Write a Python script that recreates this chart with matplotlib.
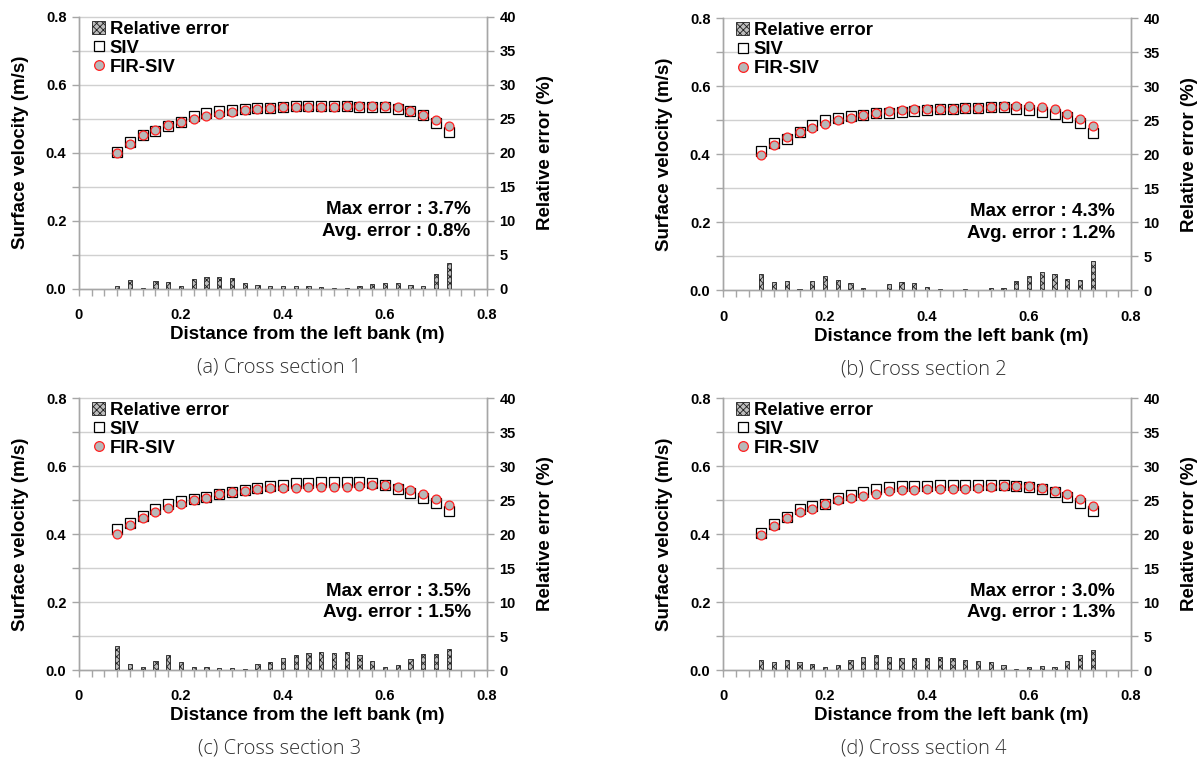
import numpy as np
import matplotlib
matplotlib.use("Agg")
import matplotlib.pyplot as plt
from matplotlib.patches import Patch
from matplotlib.lines import Line2D

plt.rcParams['font.family'] = ['Liberation Sans', 'DejaVu Sans']
plt.rcParams['font.weight'] = 'bold'
plt.rcParams['axes.labelweight'] = 'bold'
plt.rcParams['hatch.linewidth'] = 0.6

# distance from the left bank (m)
distance = [0.075 + 0.025 * i for i in range(27)]

# cross section 1
siv_1 = [0.402, 0.432, 0.452, 0.463, 0.478, 0.492, 0.509, 0.517, 0.522, 0.527, 0.530, 0.532, 0.533, 0.536,
         0.537, 0.537, 0.537, 0.537, 0.537, 0.536, 0.536, 0.534, 0.530, 0.522, 0.512, 0.487, 0.461]
fir_1 = [0.400, 0.426, 0.452, 0.468, 0.481, 0.491, 0.500, 0.509, 0.514, 0.520, 0.526, 0.530, 0.532, 0.534,
         0.535, 0.536, 0.536, 0.536, 0.537, 0.537, 0.538, 0.538, 0.534, 0.524, 0.512, 0.497, 0.480]
err_1 = [0.45, 1.3, 0.15, 1.1, 1.0, 0.45, 1.4, 1.7, 1.7, 1.6, 0.85, 0.55, 0.45, 0.45,
         0.4, 0.35, 0.25, 0.15, 0.15, 0.4, 0.75, 0.9, 0.9, 0.55, 0.45, 2.2, 3.8]

# cross section 2
siv_2 = [0.409, 0.432, 0.446, 0.465, 0.487, 0.500, 0.508, 0.513, 0.517, 0.521, 0.523, 0.525, 0.527, 0.530,
         0.533, 0.534, 0.536, 0.536, 0.538, 0.540, 0.534, 0.531, 0.525, 0.518, 0.511, 0.493, 0.464]
fir_2 = [0.398, 0.427, 0.450, 0.465, 0.478, 0.489, 0.500, 0.508, 0.516, 0.522, 0.527, 0.531, 0.533, 0.534,
         0.534, 0.534, 0.536, 0.536, 0.539, 0.541, 0.542, 0.543, 0.540, 0.533, 0.519, 0.503, 0.484]
err_2 = [2.45, 1.27, 1.37, 0.25, 1.37, 2.15, 1.47, 1.03, 0.4, 0.1, 0.9, 1.27, 1.03, 0.55,
         0.15, 0.1, 0.15, 0.1, 0.3, 0.3, 1.3, 2.15, 2.65, 2.4, 1.6, 1.47, 4.3]

# cross section 3
siv_3 = [0.414, 0.433, 0.453, 0.473, 0.489, 0.498, 0.502, 0.509, 0.518, 0.524, 0.529, 0.535, 0.541, 0.545,
         0.549, 0.551, 0.553, 0.554, 0.554, 0.554, 0.551, 0.545, 0.533, 0.521, 0.507, 0.491, 0.468]
fir_3 = [0.399, 0.426, 0.448, 0.465, 0.476, 0.489, 0.500, 0.507, 0.517, 0.524, 0.527, 0.531, 0.535, 0.535,
         0.536, 0.537, 0.538, 0.539, 0.539, 0.541, 0.545, 0.544, 0.538, 0.529, 0.519, 0.504, 0.484]
err_3 = [3.5, 0.95, 0.5, 1.35, 2.15, 1.25, 0.4, 0.4, 0.35, 0.35, 0.1, 0.95, 1.25, 1.75,
         2.15, 2.45, 2.65, 2.5, 2.6, 2.15, 1.4, 0.45, 0.8, 1.55, 2.35, 2.35, 3.1]

# cross section 4
siv_4 = [0.402, 0.429, 0.451, 0.473, 0.482, 0.488, 0.505, 0.515, 0.524, 0.533, 0.537, 0.540, 0.542, 0.542,
         0.544, 0.544, 0.544, 0.544, 0.545, 0.544, 0.541, 0.539, 0.531, 0.523, 0.509, 0.490, 0.469]
fir_4 = [0.397, 0.424, 0.447, 0.464, 0.475, 0.487, 0.499, 0.506, 0.513, 0.519, 0.526, 0.529, 0.530, 0.531,
         0.531, 0.532, 0.533, 0.535, 0.538, 0.541, 0.542, 0.542, 0.536, 0.528, 0.519, 0.504, 0.483]
err_4 = [1.47, 1.18, 1.42, 1.18, 0.83, 0.4, 0.78, 1.47, 1.86, 2.2, 1.9, 1.8, 1.8, 1.76,
         1.9, 1.7, 1.5, 1.37, 1.13, 0.74, 0.1, 0.45, 0.6, 0.45, 1.27, 2.25, 3.0]

captions = ["(a) Cross section 1", "(b) Cross section 2", "(c) Cross section 3", "(d) Cross section 4"]
max_errors = ["3.7%", "4.3%", "3.5%", "3.0%"]
avg_errors = ["0.8%", "1.2%", "1.5%", "1.3%"]

panels = [(siv_1, fir_1, err_1), (siv_2, fir_2, err_2), (siv_3, fir_3, err_3), (siv_4, fir_4, err_4)]
positions = [[0.0658, 0.622, 0.34, 0.356], [0.6025, 0.620, 0.34, 0.356],
             [0.0658, 0.123, 0.34, 0.356], [0.6025, 0.123, 0.34, 0.356]]

fig = plt.figure(figsize=(12, 7.64), dpi=100)
spine_col = "#a6a6a6"
grid_col = "#d0d0d0"
bar_face = "#bdbdbd"
bar_edge = "#202020"

for k, (siv, fir, err) in enumerate(panels):
    ax = fig.add_axes(positions[k])
    ax2 = ax.twinx()

    ax.set_xlim(0, 0.8)
    ax.set_ylim(0, 0.8)
    ax2.set_ylim(0, 40)

    ax.set_yticks(np.arange(0, 0.81, 0.2))
    ax.set_yticks(np.arange(0.1, 0.8, 0.2), minor=True)
    ax.yaxis.set_major_formatter(matplotlib.ticker.FormatStrFormatter("%.1f"))
    ax.set_xticks([0, 0.2, 0.4, 0.6, 0.8])
    ax.set_xticklabels(["0", "0.2", "0.4", "0.6", "0.8"])
    ax.set_xticks(np.arange(0, 0.801, 0.025), minor=True)
    ax2.set_yticks(np.arange(0, 41, 5))

    for y in np.arange(0.1, 0.81, 0.1):
        ax.axhline(y, color=grid_col, lw=1, zorder=0, clip_on=False)

    ax.spines["top"].set_visible(False)
    ax2.spines["top"].set_visible(False)
    for a in (ax, ax2):
        for sp in ["left", "right", "bottom"]:
            a.spines[sp].set_color(spine_col)
            a.spines[sp].set_linewidth(1)

    ax.tick_params(axis="both", which="both", color=spine_col, labelsize=10.5, width=1)
    ax.tick_params(axis="y", which="both", length=5, direction="out", pad=4)
    ax.tick_params(axis="x", which="both", length=5, direction="out", pad=9)
    ax2.tick_params(axis="y", which="both", color=spine_col, labelsize=10.5, length=5, width=1, pad=4)

    # bars and markers all on the error axis; velocities map 0.8 m/s -> 40 %
    ax2.bar(distance, err, width=0.008, facecolor=bar_face, edgecolor=bar_edge,
            hatch="xxxxx", linewidth=0.6, zorder=2)
    ax2.plot(distance, [v * 50 for v in siv], "s", ms=6.6, mfc="white", mec="black", mew=0.9, zorder=3)
    ax2.plot(distance, [v * 50 for v in fir], "o", ms=6.4, mfc="#b8b8b8", mec="#ff2020", mew=0.9, zorder=4)

    ax.set_ylabel("Surface velocity (m/s)", fontsize=13.5, labelpad=12)
    ax2.set_ylabel("Relative error (%)", fontsize=13.5, labelpad=15)
    ax.set_xlabel("Distance from the left bank (m)", fontsize=13.5)
    ax.xaxis.set_label_coords(0.56, -0.137)

    ax2.text(0.96, 0.29, "Max error : " + max_errors[k], transform=ax.transAxes,
             ha="right", va="center", fontsize=13.5)
    ax2.text(0.96, 0.21, "Avg. error : " + avg_errors[k], transform=ax.transAxes,
             ha="right", va="center", fontsize=13.5)

    handles = [Patch(facecolor=bar_face, edgecolor=bar_edge, hatch="xxxxx", linewidth=0.6),
               Line2D([], [], ls="none", marker="s", ms=7, mfc="white", mec="black", mew=0.9),
               Line2D([], [], ls="none", marker="o", ms=7, mfc="#b8b8b8", mec="#ff2020", mew=0.9)]
    ax2.legend(handles, ["Relative error", "SIV", "FIR-SIV"], loc="upper left",
               bbox_to_anchor=(0.005, 1.026), frameon=False, fontsize=13.3,
               handlelength=0.7, handleheight=0.7, handletextpad=0.25, labelspacing=0.1,
               borderpad=0.1)

    x0, y0, w, h = positions[k]
    fig.text(x0 + w / 2 - 0.003, y0 - 0.103, captions[k], ha="center", va="center",
             fontsize=14.5, fontweight="light", family=["Open Sans", "DejaVu Sans"], color="#303030")

fig.savefig("out.png", dpi=100)
